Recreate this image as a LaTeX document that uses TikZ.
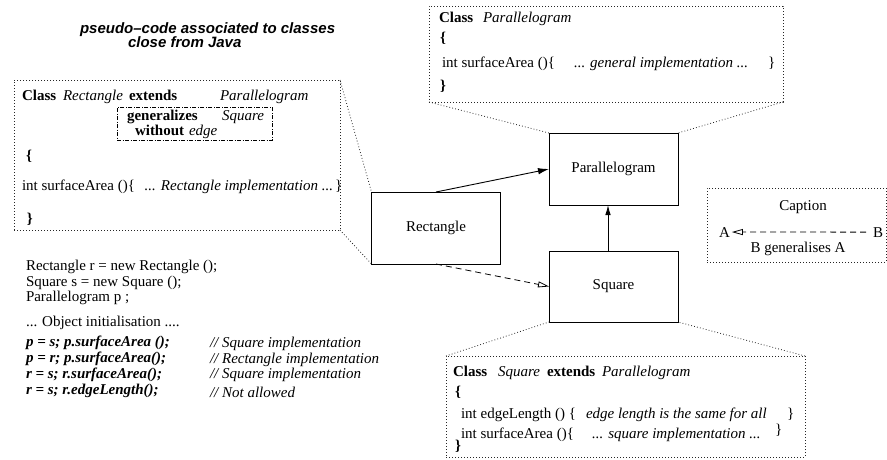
\documentclass[tikz,border=0pt]{standalone}
\usepackage{fontspec}
\setmainfont{Liberation Serif}
\newfontfamily\titlefont{Liberation Sans}
\usetikzlibrary{arrows.meta}
\begin{document}
\begin{tikzpicture}[x=1pt,y=-1pt,
  every node/.style={inner sep=0pt, outer sep=0pt},
  t/.style={anchor=base west, font=\fontsize{15}{17}\selectfont},
  tc/.style={anchor=base, font=\fontsize{15}{17}\selectfont},
  cls/.style={draw, line width=0.9pt, minimum width=129pt, minimum height=72pt, font=\fontsize{15}{17}\selectfont},
  dotbox/.style={draw, line width=0.8pt, dash pattern=on 0.8pt off 2.2pt, black!85},
  cline/.style={line width=0.8pt, dash pattern=on 0.8pt off 2.2pt, black!85},
  ddbox/.style={draw, line width=0.7pt, dash pattern=on 4pt off 1.6pt on 0.8pt off 1.6pt},
  ttl/.style={anchor=base west, font=\titlefont\bfseries\itshape\fontsize{15}{17}\selectfont},
]
\useasboundingbox (0,0) rectangle (887,459);

% title
\node[ttl] (ti1) at (80,33) {pseudo–code associated to classes};
\node[ttl] (ti2) at (128,47) {close from Java};

% class boxes
\node[cls] (para) at (613.5,169) {Parallelogram};
\node[cls] (rect) at (436,228) {Rectangle};
\node[cls, minimum height=71pt] (sq) at (613.5,286.5) {Square};

% connectors
\draw[line width=0.9pt, -{Latex[length=11pt,width=6.5pt]}] (rect.north) -- (para.west);
\draw[line width=0.9pt, -{Latex[length=10pt,width=5.5pt]}] ([xshift=-5.5pt]sq.north) -- ([xshift=-5.5pt]para.south);
\draw[line width=0.8pt, dash pattern=on 6pt off 4pt, -{Triangle[open,length=11pt,width=6pt]}] (rect.south) -- (sq.west);

% Parallelogram callout
\node[dotbox, minimum width=354pt, minimum height=96pt] (pcall) at (606,54) {};
\draw[cline] (pcall.south west) -- (para.north west);
\draw[cline] (pcall.south east) -- (para.north east);
\node[t] (p1) at (439,22) {\textbf{Class}};
\node[t] (p2) at (483,22) {\textit{Parallelogram}};
\node[t] (p3) at (440,42) {\textbf{\{}};
\node[t] (p4) at (442,67) {int surfaceArea ()\{};
\node[t] (p5) at (574,67) {\textit{... general implementation ...}};
\node[t] (p6) at (768,67) {\}};
\node[t] (p7) at (440,90) {\textbf{\}}};

% Rectangle callout
\node[dotbox, minimum width=326pt, minimum height=150pt] (rcall) at (177,155) {};
\draw[cline] (rcall.north east) -- (rect.north west);
\draw[cline] (rcall.south east) -- (rect.south west);
\node[ddbox, minimum width=155pt, minimum height=33pt] (gen) at (194.5,123.5) {};
\node[t] (r1) at (22,100) {\textbf{Class}};
\node[t] (r2) at (63,100) {\textit{Rectangle}};
\node[t] (r3) at (129,100) {\textbf{extends}};
\node[t] (r4) at (220,100) {\textit{Parallelogram}};
\node[t] (r5) at (127,120) {\textbf{generalizes}};
\node[t] (r6) at (222,120) {\textit{Square}};
\node[t] (r7) at (135,135) {\textbf{without}};
\node[t] (r8) at (189,135) {\textit{edge}};
\node[t] (r9) at (26,160) {\textbf{\{}};
\node[t] (r10) at (22,190) {int surfaceArea ()\{};
\node[t, anchor=base east] (r11) at (333,190) {\textit{... Rectangle implementation ...}};
\node[t] (r12) at (335,190) {\}};
\node[t] (r13) at (27,223) {\textbf{\}}};

% Square callout
\node[dotbox, minimum width=359pt, minimum height=101pt] (scall) at (625.5,406.5) {};
\draw[cline] (scall.north west) -- (sq.south west);
\draw[cline] (scall.north east) -- (sq.south east);
\node[t] (s1) at (453,376) {\textbf{Class}};
\node[t] (s2) at (498,376) {\textit{Square}};
\node[t] (s3) at (547,376) {\textbf{extends}};
\node[t] (s4) at (602,376) {\textit{Parallelogram}};
\node[t] (s5) at (455,396) {\textbf{\{}};
\node[t] (s6) at (461,418) {int edgeLength () \{};
\node[t] (s7) at (586,418) {\textit{edge length is the same for all}};
\node[t] (s8) at (787,418) {\}};
\node[t] (s9) at (461,438) {int surfaceArea ()\{};
\node[t] (s10) at (592,438) {\textit{... square implementation ...}};
\node[t] (s11) at (775,434) {\}};
\node[t] (s12) at (455,450) {\textbf{\}}};

% Caption
\node[dotbox, minimum width=179pt, minimum height=74pt] (cap) at (796.5,225) {};
\node[tc] (capt) at (803,210) {Caption};
\node[t] (ca) at (719,237) {A};
\node[t] (cb) at (873,237) {B};
\node[tc] (capg) at (798,252) {B generalises A};
\draw[line width=0.8pt, dash pattern=on 6pt off 4pt, shorten >=2pt, shorten <=7pt, -{Triangle[open,length=11pt,width=6pt]}] (cb.west) -- (ca.east);

% code
\node[t] (c1) at (26,270) {Rectangle r = new Rectangle ();};
\node[t] (c2) at (26,286) {Square s = new Square ();};
\node[t] (c3) at (26,301.5) {Parallelogram p ;};
\node[t] (c4) at (26,326) {... Object initialisation ....};
\node[t] (c5) at (26,346) {\textbf{\textit{p = s; p.surfaceArea ();}}};
\node[t] (c6) at (26,362) {\textbf{\textit{p = r; p.surfaceArea();}}};
\node[t] (c7) at (26,378) {\textbf{\textit{r = s; r.surfaceArea();}}};
\node[t] (c8) at (26,394) {\textbf{\textit{r = s; r.edgeLength();}}};
\node[t] (k1) at (210,347) {\textit{// Square implementation}};
\node[t] (k2) at (210,363) {\textit{// Rectangle implementation}};
\node[t] (k3) at (210,378) {\textit{// Square implementation}};
\node[t] (k4) at (210,397) {\textit{// Not allowed}};
\end{tikzpicture}
\end{document}
